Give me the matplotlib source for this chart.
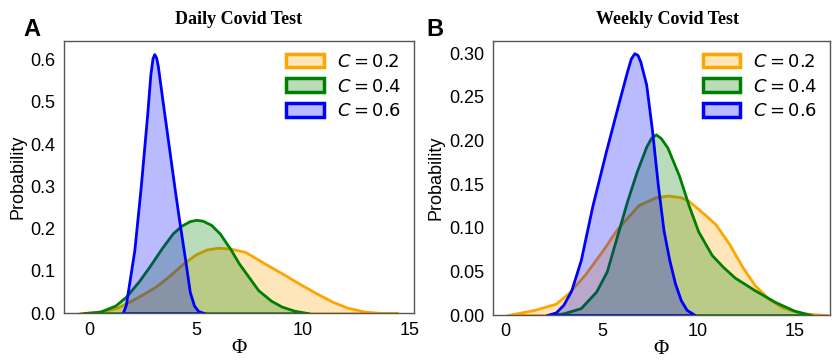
import matplotlib
matplotlib.use("Agg")
import matplotlib.pyplot as plt
from matplotlib.patches import Patch
from matplotlib.colors import to_rgba

plt.rcParams['font.family'] = ['Liberation Sans', 'DejaVu Sans']
plt.rcParams['mathtext.fontset'] = 'dejavusans'

labels = ["$C = 0.2$", "$C = 0.4$", "$C = 0.6$"]
colors = ["orange", "green", "blue"]

# Daily test (panel A)
daily_x_02 = [-0.47, 0.5, 1.3, 2.0, 2.6, 3.1, 3.7, 4.4, 5.0, 5.5, 6.0, 6.6, 7.3, 8.2,
              9.0, 9.8, 10.6, 11.4, 12.1, 12.9, 13.6, 14.44]
daily_p_02 = [0.0, 0.004, 0.013, 0.031, 0.048, 0.063, 0.087, 0.118, 0.14, 0.151, 0.155,
              0.153, 0.145, 0.118, 0.095, 0.071, 0.048, 0.027, 0.013, 0.004, 0.001, 0.0]
daily_x_04 = [-0.3, 0.5, 1.2, 1.7, 2.3, 2.8, 3.4, 3.9, 4.3, 4.7, 5.0, 5.3, 5.7, 6.1,
              6.6, 7.0, 7.5, 7.9, 8.5, 9.0, 9.6, 10.27]
daily_p_04 = [0.0, 0.004, 0.018, 0.039, 0.075, 0.11, 0.155, 0.189, 0.207, 0.218, 0.221,
              0.219, 0.209, 0.189, 0.152, 0.118, 0.083, 0.055, 0.03, 0.016, 0.006, 0.0]
daily_x_06 = [1.55, 1.7, 2.1, 2.4, 2.7, 2.85, 2.95, 3.03, 3.12, 3.2, 3.4, 3.7, 4.0, 4.2,
              4.5, 4.7, 4.9, 5.1, 5.4]
daily_p_06 = [0.0, 0.02, 0.15, 0.30, 0.47, 0.565, 0.603, 0.613, 0.605, 0.585, 0.51,
              0.40, 0.29, 0.22, 0.12, 0.05, 0.018, 0.005, 0.0]

# Weekly test (panel B)
weekly_x_02 = [0.1, 1.5, 2.6, 3.25, 4.1, 5.0, 5.8, 6.9, 7.8, 8.45, 9.1, 9.5, 10.35,
               10.9, 11.6, 12.3, 12.95, 13.65, 14.35, 15.4, 16.7]
weekly_p_02 = [0.0, 0.006, 0.013, 0.025, 0.046, 0.073, 0.099, 0.126, 0.135, 0.137,
               0.135, 0.131, 0.115, 0.104, 0.082, 0.055, 0.034, 0.019, 0.009, 0.002, 0.0]
weekly_x_04 = [2.3, 3.0, 3.9, 4.7, 5.25, 5.8, 6.3, 6.8, 7.3, 7.55, 7.8, 8.05, 8.4, 9.0,
               9.5, 10.0, 10.7, 11.3, 11.9, 12.9, 14.0, 15.0, 15.9]
weekly_p_04 = [0.0, 0.002, 0.008, 0.027, 0.05, 0.092, 0.13, 0.164, 0.193, 0.203, 0.207,
               0.203, 0.192, 0.16, 0.126, 0.096, 0.069, 0.055, 0.043, 0.029, 0.015,
               0.005, 0.0]
weekly_x_06 = [2.13, 2.6, 3.0, 3.4, 3.9, 4.5, 5.2, 5.9, 6.3, 6.5, 6.68, 6.85, 7.0, 7.3,
               7.6, 7.9, 8.2, 8.5, 8.8, 9.1, 9.4, 9.83]
weekly_p_06 = [0.0, 0.003, 0.012, 0.028, 0.063, 0.125, 0.187, 0.246, 0.279, 0.294,
               0.300, 0.298, 0.290, 0.264, 0.212, 0.15, 0.097, 0.063, 0.036, 0.017,
               0.006, 0.0]

daily = [(daily_x_02, daily_p_02), (daily_x_04, daily_p_04), (daily_x_06, daily_p_06)]
weekly = [(weekly_x_02, weekly_p_02), (weekly_x_04, weekly_p_04), (weekly_x_06, weekly_p_06)]

fig = plt.figure(figsize=(8.35, 3.63), dpi=100)
ax1 = fig.add_axes([0.0766, 0.137, 0.419, 0.750])
ax2 = fig.add_axes([0.590, 0.132, 0.404, 0.755])


def draw(ax, curves, xlim, ylim, yticks, yfmt):
    for (x, p), c in zip(curves, colors):
        ax.fill_between(x, p, 0, facecolor=to_rgba(c, 0.27), edgecolor=c, linewidth=2)
    ax.set_xlim(xlim)
    ax.set_ylim(ylim)
    ax.set_xticks([0, 5, 10, 15])
    ax.set_yticks(yticks)
    ax.set_yticklabels([yfmt % t for t in yticks])
    ax.tick_params(length=0, labelsize=13, pad=6)
    for s in ax.spines.values():
        s.set_color("#555555")
        s.set_linewidth(1)
    ax.set_ylabel("Probability", fontsize=13, labelpad=3)
    ax.set_xlabel("Φ", fontsize=15, family="Liberation Serif", labelpad=0)
    handles = [Patch(facecolor=to_rgba(c, 0.27), edgecolor=c, linewidth=2.5) for c in colors]
    ax.legend(handles, labels, loc="upper right", frameon=False, fontsize=13,
              handlelength=2.1, handleheight=0.8, labelspacing=0.42,
              borderaxespad=0.3, handletextpad=0.7)


draw(ax1, daily, (-1.2, 15.2), (0, 0.644), [0, 0.1, 0.2, 0.3, 0.4, 0.5, 0.6], "%.1f")
draw(ax2, weekly, (-0.68, 16.85), (0, 0.314), [0, 0.05, 0.1, 0.15, 0.2, 0.25, 0.3], "%.2f")

fig.text(239 / 835, 1 - 20 / 363, "Daily Covid Test", ha="center", va="center",
         fontsize=13, fontweight="bold", family="Liberation Serif")
fig.text(668 / 835, 1 - 20 / 363, "Weekly Covid Test", ha="center", va="center",
         fontsize=13, fontweight="bold", family="Liberation Serif")
fig.text(32 / 835, 1 - 29 / 363, "A", ha="center", va="center", fontsize=17, fontweight="bold")
fig.text(435 / 835, 1 - 29 / 363, "B", ha="center", va="center", fontsize=17, fontweight="bold")

fig.savefig("out.png", dpi=100)
